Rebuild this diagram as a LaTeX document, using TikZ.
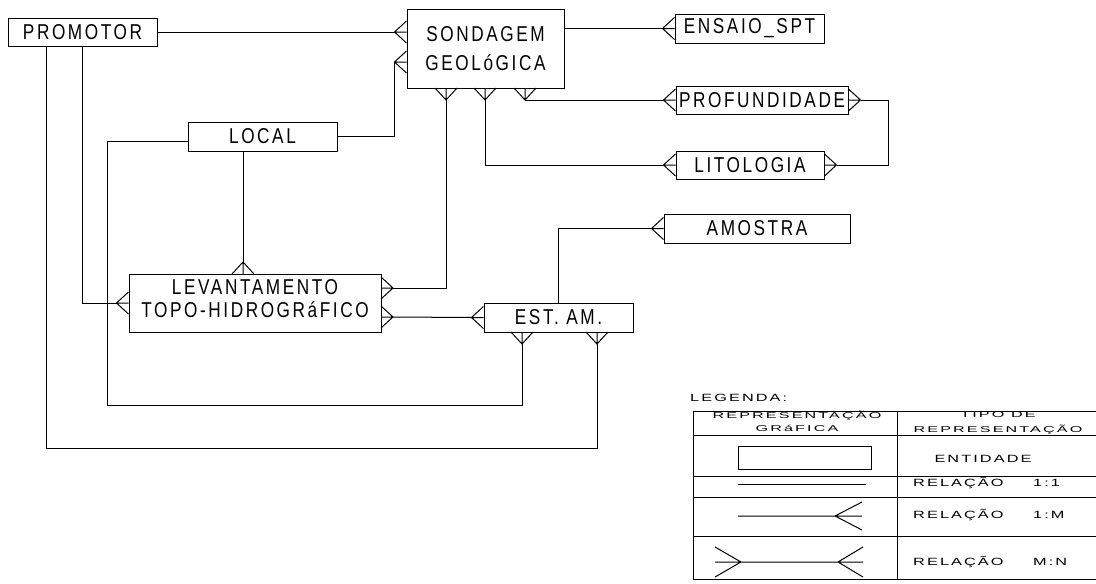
\documentclass[tikz,border=0pt]{standalone}
\usepackage{fontspec}
\usepackage{tikz}
\usetikzlibrary{calc}
\newfontfamily\cadfont[FakeStretch=0.8,LetterSpace=12]{Liberation Sans}
\newfontfamily\legfont[FakeStretch=1.55,LetterSpace=20]{Liberation Sans}
\newfontfamily\headfont[FakeStretch=1.9,LetterSpace=25]{Liberation Sans}
\def\cad{\cadfont\fontsize{21.5}{29}\selectfont}
\def\leg{\legfont\fontsize{10.5}{13}\selectfont}
\def\hdr{\headfont\fontsize{8.5}{13}\selectfont}

\tikzset{
  entity/.style={draw,line width=1pt,inner sep=0pt,align=center,font=\cad},
  crow/.pic={\draw[line width=1pt] (0,0) -- (12,0) (0,-11) -- (12,0) -- (0,11);
             \coordinate (-tip) at (12,0);},
  rel/.style={line width=1pt},
  legtxt/.style={inner sep=0pt,font=\leg,anchor=base west},
  hdrtxt/.style={inner sep=0pt,font=\hdr,anchor=base}
}

\begin{document}
\begin{tikzpicture}[x=1pt,y=-1pt]
\useasboundingbox (0,0) rectangle (1096,584);
%\draw[help lines,step=50] (0,0) grid (1096,584);

\node[entity,minimum width=149,minimum height=28] (promotor) at (82.5,32) {PROMOTOR};
\node[entity,minimum width=157,minimum height=79] (sond) at (485.5,48.5) {SONDAGEM\\GEOL\'oGICA};
\node[entity,minimum width=149,minimum height=29] (ensaio) at (749.5,28.5) {ENSAIO\_SPT};
\node[entity,minimum width=172,minimum height=28] (profund) at (762,100) {PROFUNDIDADE};
\node[entity,minimum width=148,minimum height=28] (litol) at (750,165) {LITOLOGIA};
\node[entity,minimum width=149,minimum height=29] (local) at (262.5,136.5) {LOCAL};
\node[entity,minimum width=186,minimum height=29] (amostra) at (757,228.5) {AMOSTRA};
\node[entity,minimum width=252,minimum height=58,text depth=9pt] (levant) at (255,303)
  {LEVANTAMENTO\\[-6pt]TOPO-HIDROGR\'aFICO};
\node[entity,minimum width=149,minimum height=29] (estam) at (558.5,317.5) {EST. AM.};

% crow's feet
\pic[rotate=180] (sl1) at (sond.west |- promotor.east) {crow};
\pic[rotate=180] (sl2) at ([yshift=-13.5pt]sond.west) {crow};
\pic[rotate=-90] (sb1) at (446,88) {crow};
\pic[rotate=-90] (sb2) at (485,88) {crow};
\pic[rotate=-90] (sb3) at (525,88) {crow};
\pic[rotate=180] (ens) at (ensaio.west) {crow};
\pic[rotate=180] (prl) at (profund.west) {crow};
\pic (prr) at (profund.east) {crow};
\pic[rotate=180] (lil) at (litol.west) {crow};
\pic (lir) at (litol.east) {crow};
\pic[rotate=90] (lt) at (243,274) {crow};
\pic[rotate=180] (ll) at (levant.west) {crow};
\pic (lr1) at (381,288) {crow};
\pic (lr2) at (381,317) {crow};
\pic[rotate=180] (eal) at (estam.west) {crow};
\pic[rotate=-90] (eb1) at (522,332) {crow};
\pic[rotate=-90] (eb2) at (597,332) {crow};
\pic[rotate=180] (aml) at (amostra.west) {crow};

% relations
\draw[rel] (promotor.east) -- (sl1-tip);
\draw[rel] (local.east) -| (sl2-tip);
\draw[rel] (ens-tip) -- (ens-tip -| sond.east);
\draw[rel] (sb3-tip) |- (prl-tip);
\draw[rel] (sb2-tip) |- (lil-tip);
\draw[rel] (prr-tip) -- ++(28,0) |- (lir-tip);
\draw[rel] (sb1-tip) |- (lr1-tip);
\draw[rel] (lt-tip) -- (lt-tip |- local.south);
\draw[rel] (promotor.south) |- (ll-tip);
\draw[rel] (lr2-tip) -- (eal-tip);
\draw[rel] (aml-tip) -| (estam.north);
\draw[rel] (eb1-tip) |- (107,405) |- ([yshift=-4.5pt]local.west);
\draw[rel] (eb2-tip) |- (46,448) -- ([xshift=-36.5pt]promotor.south);

% legend
\node[legtxt] (legenda) at (690,401) {LEGENDA:};
\draw[rel] (693,411) -- (1096,411) (693,435) -- (1096,435) (693,476) -- (1096,476)
  (693,497) -- (1096,497) (693,536) -- (1096,536) (693,579) -- (1096,579);
\draw[rel] (693,411) -- (693,579) (897,411) -- (897,579);
\node[hdrtxt] (hrep) at (797,418) {REPRESENTA\c{C}\~AO};
\node[hdrtxt] (hgraf) at (797,431) {GR\'aFICA};
\node[hdrtxt] (htipo) at (998,417) {TIPO DE};
\node[hdrtxt] (hrep2) at (998,432) {REPRESENTA\c{C}\~AO};
\draw[rel] (738,446) rectangle (871,469);
\node[legtxt,anchor=base] (tent) at (983,462) {ENTIDADE};
\draw[rel] (738,484) -- (866,484);
\node[legtxt] (t11) at (913,486) {RELA\c{C}\~AO};
\node[legtxt] (n11) at (1033,486) {1:1};
\draw[rel] (738,516) -- (862,516) (862,502) -- (835,516) -- (862,530);
\node[legtxt] (t1m) at (913,518) {RELA\c{C}\~AO};
\node[legtxt] (n1m) at (1033,518) {1:M};
\draw[rel] (715,562) -- (863,562) (715,547) -- (741,562) -- (715,577)
  (863,547) -- (838,562) -- (863,577);
\node[legtxt] (tmn) at (913,565) {RELA\c{C}\~AO};
\node[legtxt] (nmn) at (1033,565) {M:N};
\end{tikzpicture}
\end{document}
